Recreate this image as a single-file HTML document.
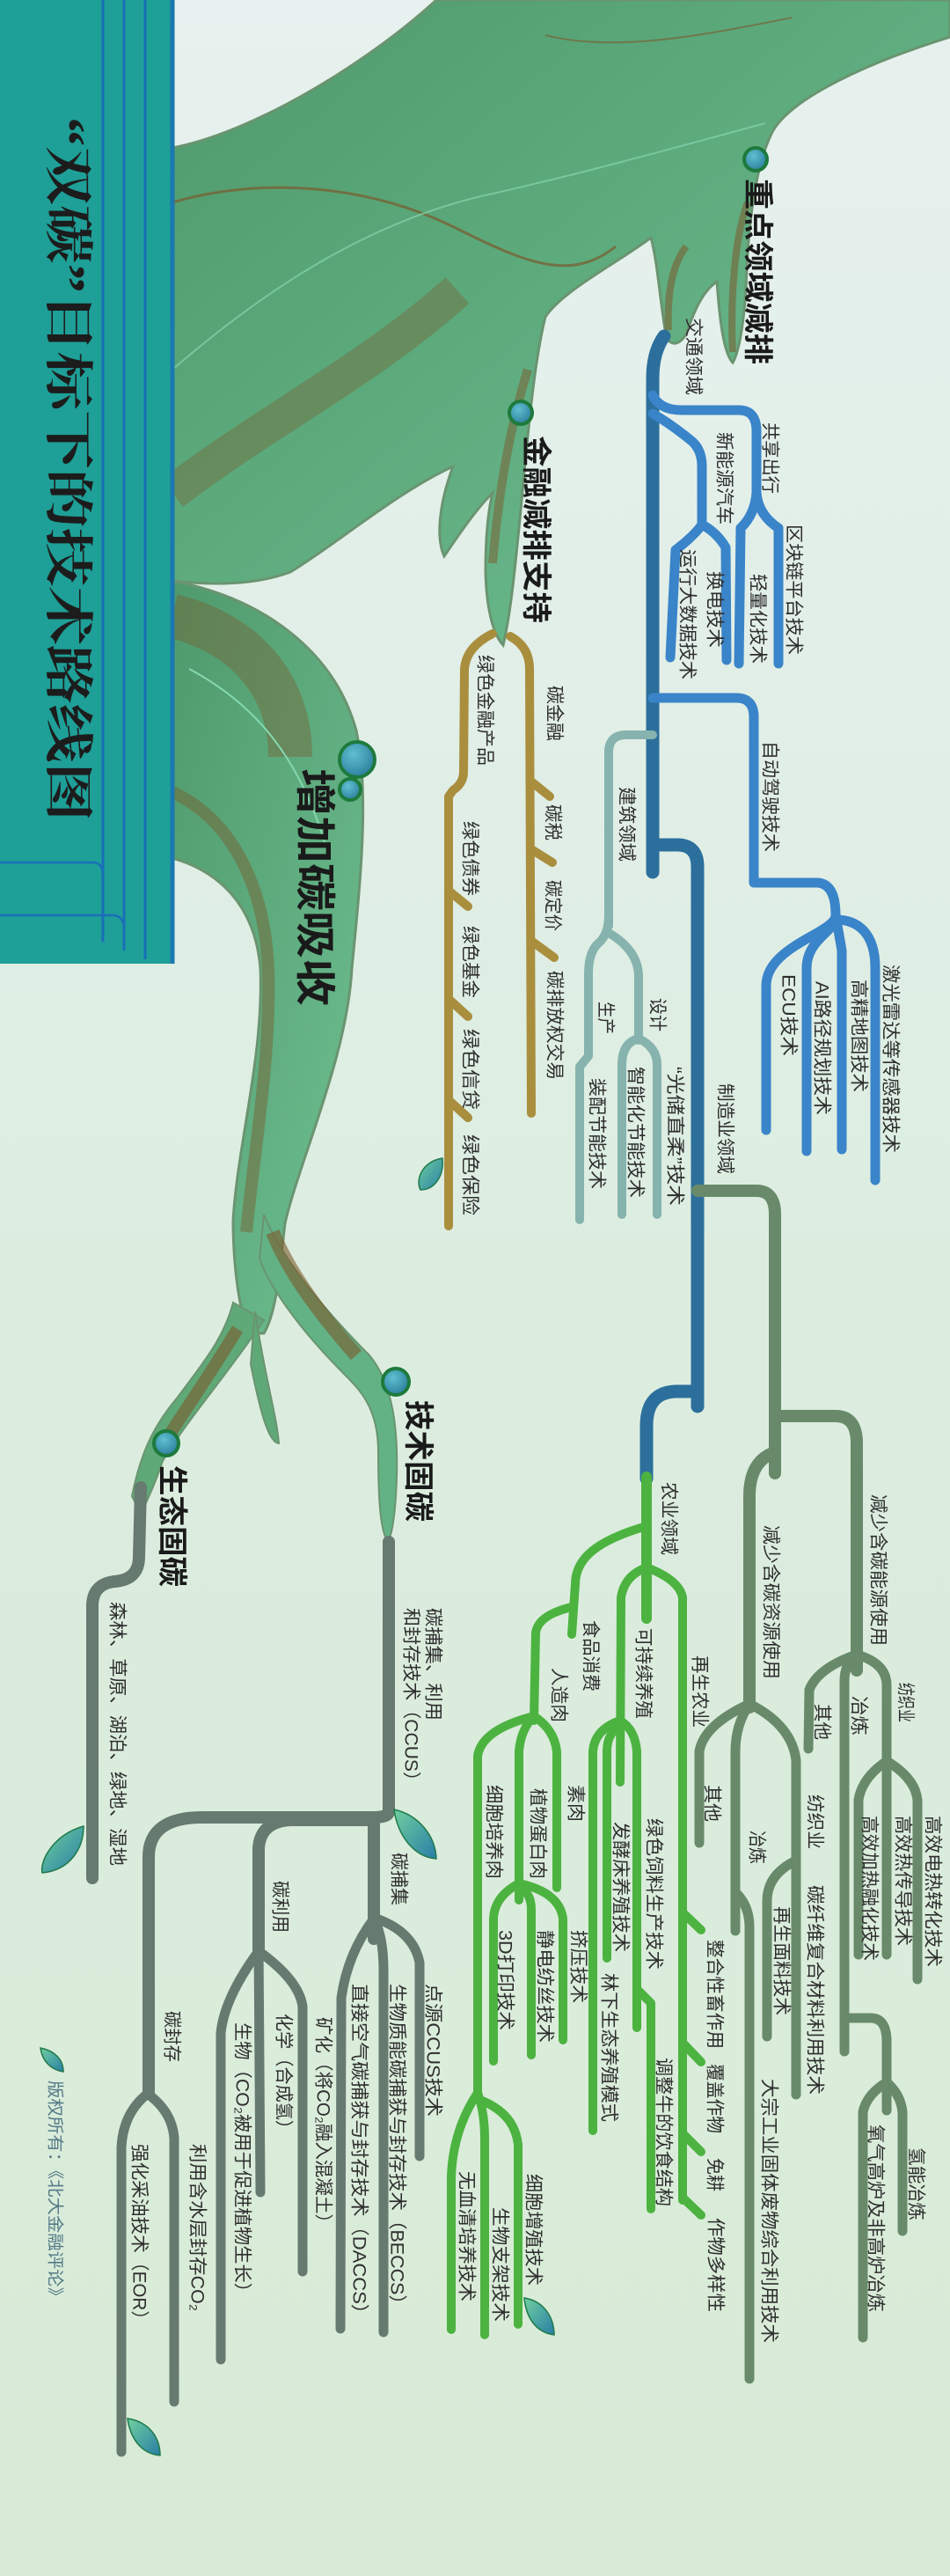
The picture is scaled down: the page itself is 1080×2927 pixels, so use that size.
<!DOCTYPE html>
<html><head><meta charset="utf-8">
<style>
html,body{margin:0;padding:0;}
body{width:1080px;height:2927px;overflow:hidden;}
svg{display:block;}
.t{font-family:"Liberation Sans","Noto Sans CJK SC",sans-serif;font-size:21px;fill:#2e2e2e;dominant-baseline:central;}
.b{font-family:"Liberation Sans","Noto Sans CJK SC",sans-serif;font-weight:bold;fill:#1a1a1a;dominant-baseline:central;}
.ln{fill:none;stroke-linecap:round;stroke-linejoin:round;}
</style></head><body>
<svg width="1080" height="2927" viewBox="0 0 1080 2927" xmlns="http://www.w3.org/2000/svg">
<defs>
<linearGradient id="bg" x1="0" y1="0" x2="0" y2="1">
<stop offset="0" stop-color="#e7f1ef"/><stop offset="0.5" stop-color="#dcede0"/><stop offset="1" stop-color="#d8ebd6"/>
</linearGradient>
<linearGradient id="tr" x1="0" y1="0" x2="1" y2="1">
<stop offset="0" stop-color="#4f9a6c"/><stop offset="0.6" stop-color="#62b083"/><stop offset="1" stop-color="#6fc293"/>
</linearGradient>
<linearGradient id="br" x1="0" y1="0" x2="1" y2="0">
<stop offset="0" stop-color="#7b5a2c"/><stop offset="1" stop-color="#7b5a2c" stop-opacity="0"/>
</linearGradient>
<radialGradient id="nd" cx="0.4" cy="0.35" r="0.7">
<stop offset="0" stop-color="#5fc0cf"/><stop offset="1" stop-color="#2a7c9c"/>
</radialGradient>
<linearGradient id="lf" x1="0" y1="0" x2="1" y2="1">
<stop offset="0" stop-color="#6fcf9e"/><stop offset="1" stop-color="#2a7ea6"/>
</linearGradient>
</defs>
<rect width="1080" height="2927" fill="url(#bg)"/>

<!-- tree canopy -->
<path d="M196,168 C290,150 420,70 496,0 L1080,0 L1080,42 C990,70 900,110 878,150 C858,190 850,260 848,330 C845,370 840,400 833,412 C822,400 818,360 815,320 C800,330 790,350 780,380 C770,395 760,392 757,380 C750,340 748,300 740,270 C700,300 640,330 620,360 C605,420 598,520 590,600 C585,650 580,700 572,733 C560,720 553,690 552,650 C552,610 555,580 560,560 C540,580 520,610 505,632 C495,610 500,570 515,530 C450,560 380,620 330,650 C290,665 240,665 196,660 Z" fill="url(#tr)" stroke="#6a9470" stroke-width="3"/>
<path d="M196,230 C300,200 420,210 520,260 C600,300 650,320 700,280" fill="none" stroke="#7b5a2c" stroke-width="3" opacity="0.7"/>
<path d="M196,420 C300,330 420,250 560,220 C650,200 760,170 870,140" fill="none" stroke="#7fd0a8" stroke-width="2" opacity="0.8"/>
<path d="M196,560 C300,480 420,420 520,330" fill="none" stroke="#7b5a2c" stroke-width="40" opacity="0.35"/>
<path d="M560,640 C565,580 575,500 600,420" fill="none" stroke="#7b5a2c" stroke-width="10" opacity="0.5"/>
<path d="M833,400 C830,340 835,270 850,230" fill="none" stroke="#7b5a2c" stroke-width="8" opacity="0.55"/>
<path d="M760,375 C758,330 765,300 780,280" fill="none" stroke="#7b5a2c" stroke-width="8" opacity="0.55"/>
<path d="M620,40 C700,60 800,40 900,20" fill="none" stroke="#7b5a2c" stroke-width="2" opacity="0.6"/>
<!-- limb -->
<path d="M196,660 C300,680 380,740 405,830 C420,900 410,1000 400,1100 C395,1200 340,1320 324,1390 C318,1440 315,1490 300,1515 L282,1515 C270,1480 265,1430 265,1387 C270,1300 300,1200 296,1100 C290,1030 250,990 196,975 Z" fill="url(#tr)" stroke="#6a9470" stroke-width="3"/>
<path d="M196,700 C280,720 330,780 330,860" fill="none" stroke="#7b5a2c" stroke-width="50" opacity="0.4"/>
<path d="M196,900 C260,930 300,1000 305,1100 C308,1200 290,1300 280,1400" fill="none" stroke="#7b5a2c" stroke-width="14" opacity="0.45"/>
<path d="M215,760 C290,800 340,860 370,960" fill="none" stroke="#84d8b0" stroke-width="2"/>
<path d="M300,1500 C260,1560 215,1610 185,1660 C175,1690 165,1710 160,1720 L150,1700 C160,1650 175,1620 200,1590 C230,1550 255,1520 265,1480 Z" fill="#5fa878" stroke="#6a9470" stroke-width="2"/>
<path d="M270,1510 C240,1560 205,1610 180,1650" fill="none" stroke="#7b5a2c" stroke-width="14" opacity="0.6"/>
<path d="M300,1380 C320,1430 370,1490 420,1540 C445,1570 455,1620 450,1700 C448,1730 445,1745 441,1752 C432,1740 430,1700 430,1650 C430,1600 410,1580 390,1560 C340,1510 305,1460 295,1430 Z" fill="#62b286" stroke="#6a9470" stroke-width="2"/>
<path d="M310,1400 C330,1450 370,1500 405,1540" fill="none" stroke="#7b5a2c" stroke-width="16" opacity="0.6"/>
<path d="M290,1490 C300,1560 315,1610 317,1640 C305,1640 295,1600 285,1550 Z" fill="#5fa878" stroke="#6a9470" stroke-width="2"/>

<!-- title panel -->
<rect x="0" y="0" width="196" height="1095" fill="#1e9f97"/>
<path d="M117,0 L117,1070 M141,0 L141,1080 M165,0 L165,1090" stroke="#1a6fb8" stroke-width="3" fill="none"/>
<path d="M196,0 L196,1095" stroke="#1a78b0" stroke-width="5"/>
<path d="M0,980 L108,980 Q117,982 117,995 M0,1040 L130,1040 Q141,1042 141,1055" stroke="#1a6fb8" stroke-width="2.5" fill="none"/>
<text x="0" y="0" transform="translate(76,133) rotate(90)" textLength="800" lengthAdjust="spacingAndGlyphs" style="font-family:'Liberation Serif','Noto Serif CJK SC',serif;font-size:56px;font-weight:bold;fill:#1c1c1c;dominant-baseline:central;">“双碳”目标下的技术路线图</text>

<!-- nodes -->
<g stroke="#1d7a3c" stroke-width="4" fill="url(#nd)">
<circle cx="859" cy="181" r="13"/>
<circle cx="592" cy="469" r="13"/>
<circle cx="406" cy="863" r="20"/>
<circle cx="398" cy="897" r="12"/>
<circle cx="450" cy="1570" r="15"/>
<circle cx="189" cy="1640" r="14"/>
</g>
<text class="b" transform="translate(861,203) rotate(90)" textLength="211" lengthAdjust="spacingAndGlyphs" style="font-size:34px">重点领域减排</text>
<text class="b" transform="translate(609,495) rotate(90)" textLength="213" lengthAdjust="spacingAndGlyphs" style="font-size:34px">金融减排支持</text>
<text class="b" transform="translate(358,873) rotate(90)" textLength="270" lengthAdjust="spacingAndGlyphs" style="font-size:46px">增加碳吸收</text>
<text class="b" transform="translate(475,1591) rotate(90)" textLength="138" lengthAdjust="spacingAndGlyphs" style="font-size:34px">技术固碳</text>
<text class="b" transform="translate(195,1665) rotate(90)" textLength="138" lengthAdjust="spacingAndGlyphs" style="font-size:34px">生态固碳</text>

<!-- blue tree -->
<g class="ln" stroke="#2c6f9c" stroke-width="15">
<path d="M755,382 Q742,400 742,430 L742,991"/>
<path d="M742,960 L770,960 Q793,960 793,985 L793,1598"/>
<path d="M793,1581 L770,1581 Q735,1581 735,1620 L735,1680"/>
</g>
<g class="ln" stroke="#3a84c9" stroke-width="11">
<path d="M742,449 Q750,466 775,466 L840,466 Q860,466 860,490 L860,562"/>
<path d="M860,560 Q862,585 885,600 L885,754"/>
<path d="M860,560 Q858,585 842,600 L840,754"/>
<path d="M742,470 Q760,480 785,500 Q798,510 798,530 L798,598"/>
<path d="M798,596 Q790,608 768,625 L762,747"/>
<path d="M798,596 Q815,605 825,622 L826,750"/>
<path d="M742,793 L837,793 Q857,793 857,815 L857,1003 L930,1003 Q950,1005 950,1040"/>
<path d="M950,1040 C950,1060 871,1075 871,1120 L871,1284"/>
<path d="M950,1045 C945,1060 917,1070 917,1100 L917,1308"/>
<path d="M950,1040 L957,1080 L957,1306"/>
<path d="M950,1045 C975,1045 995,1060 995,1100 L995,1341"/>
</g>
<!-- building -->
<g class="ln" stroke="#86b3ad" stroke-width="10">
<path d="M742,835 L712,835 Q692,835 692,855 L692,1052"/>
<path d="M692,1040 Q692,1062 680,1072 Q669,1082 669,1107 L669,1200 L659,1212 L659,1386"/>
<path d="M692,1060 Q726,1080 726,1110 L726,1182"/>
<path d="M726,1180 Q707,1185 707,1210 L707,1380"/>
<path d="M726,1180 Q747,1190 747,1210 L747,1380"/>
</g>
<!-- gold -->
<g class="ln" stroke="#a98e3e" stroke-width="10">
<path d="M560,720 Q530,735 528,760 L527,877 Q527,890 515,898 L510,905 L510,1393"/>
<path d="M580,723 Q602,735 602,760 L604,1265"/>
<path d="M510,1012 L532,1030 M510,1135 L532,1155 M510,1250 L532,1270"/>
<path d="M604,888 L625,905 M604,965 L628,980 M604,1069 L630,1088"/>
</g>
<!-- manufacturing -->
<g class="ln" stroke="#688a6a" stroke-width="14">
<path d="M793,1353 L860,1353 Q881,1353 881,1380 L881,1674"/>
<path d="M881,1609 L950,1609 Q974,1609 974,1640 L974,1898"/>
<path d="M881,1650 Q852,1660 852,1700 L852,1940"/>
</g>
<g class="ln" stroke="#688a6a" stroke-width="11">
<path d="M974,1880 Q930,1895 920,1920 L919,1987"/>
<path d="M974,1880 Q960,1890 960,1910 L960,2331"/>
<path d="M974,1880 Q1008,1890 1008,1915 L1008,2221"/>
<path d="M1008,2001 Q980,2020 976,2045 L976,2221"/>
<path d="M1008,2001 Q1040,2020 1043,2045 L1043,2249"/>
<path d="M960,2293 L990,2293 Q1008,2293 1008,2320 L1008,2398"/>
<path d="M1008,2366 Q985,2380 981,2400 L981,2656"/>
<path d="M1008,2366 Q1024,2380 1026,2400 L1026,2535"/>
<path d="M852,1936 Q800,1960 795,1990 L795,2094"/>
<path d="M852,1936 Q836,1960 836,1990 L836,2194"/>
<path d="M836,2150 Q852,2165 852,2190 L852,2703"/>
<path d="M852,1936 Q900,1960 905,2000 L905,2380"/>
<path d="M905,2114 Q872,2130 872,2160 L872,2314"/>
</g>
<!-- green -->
<g class="ln" stroke="#4cb340" stroke-width="10">
<path d="M735,1678 L735,1839" stroke-width="12"/>
<path d="M735,1734 C680,1750 654,1770 654,1800 L650,1857"/>
<path d="M650,1826 Q612,1835 609,1855 L607,1955"/>
<path d="M607,1950 Q548,1965 543,1995 L543,2385"/>
<path d="M607,1950 Q592,1965 590,1990 L590,2159"/>
<path d="M607,1950 Q630,1965 633,1990 L633,2145"/>
<path d="M590,2140 Q562,2155 561,2180 L561,2342"/>
<path d="M590,2145 Q604,2150 604,2170 L604,2335"/>
<path d="M590,2140 Q636,2150 640,2180 L640,2318"/>
<path d="M543,2378 Q515,2420 513,2473 L513,2647"/>
<path d="M543,2378 Q551,2400 551,2430 L551,2653"/>
<path d="M543,2385 Q585,2400 589,2437 L589,2641"/>
<path d="M735,1781 Q710,1790 706,1815 L705,2025"/>
<path d="M705,1955 Q676,1965 674,1990 L674,2421"/>
<path d="M705,1960 Q690,1970 690,1990 L690,2225"/>
<path d="M705,1955 Q722,1965 724,1990 L724,2304"/>
<path d="M724,2260 L740,2276 L740,2510"/>
<path d="M735,1781 Q772,1795 776,1815 L776,2500"/>
<path d="M776,2173 L797,2193 M776,2321 L797,2343 M776,2424 L797,2445 M776,2497 L797,2517"/>
</g>
<!-- tech gray -->
<g class="ln" stroke="#677a70" stroke-width="14">
<path d="M160,1690 L158,1769 Q158,1795 130,1797 Q105,1800 105,1825 L105,2134"/>
<path d="M442,1752 L442,2058 Q442,2065 425,2065 L230,2065 Q169,2065 169,2110 L169,2378"/>
<path d="M425,2068 L330,2068 Q296,2070 294,2100 L294,2217"/>
<path d="M425,2065 L425,2203"/>
</g>
<g class="ln" stroke="#677a70" stroke-width="11">
<path d="M294,2210 L296,2491"/>
<path d="M294,2217 Q255,2270 251,2310 L251,2681"/>
<path d="M294,2217 Q340,2250 344,2280 L344,2581"/>
<path d="M425,2180 Q395,2220 388,2270 L387,2646"/>
<path d="M425,2180 Q436,2200 436,2240 L436,2650"/>
<path d="M428,2180 Q470,2195 477,2230 L477,2450"/>
<path d="M169,2378 Q140,2400 138,2440 L138,2786"/>
<path d="M169,2380 Q196,2400 198,2430 L198,2729"/>
</g>

<!-- leaves -->
<g stroke="#1f7a4a" stroke-width="1.5" fill="url(#lf)">
<path d="M503,1316 C480,1320 472,1340 478,1352 C495,1352 505,1335 503,1316 Z"/>
<path d="M95,2075 C60,2085 45,2115 48,2128 C80,2125 95,2100 95,2075 Z"/>
<path d="M448,2056 C475,2062 495,2085 496,2112 C470,2110 452,2085 448,2056 Z"/>
<path d="M145,2748 C170,2752 182,2770 182,2790 C160,2788 148,2770 145,2748 Z"/>
<path d="M596,2611 C620,2615 630,2635 630,2653 C608,2650 598,2632 596,2611 Z"/>
<path d="M46,2327 C62,2330 72,2340 72,2354 C58,2352 48,2342 46,2327 Z"/>
</g>

<!-- labels -->
<g class="t">
<text transform="translate(788,361) rotate(90)" textLength="88" lengthAdjust="spacingAndGlyphs">交通领域</text>
<text transform="translate(875,480) rotate(90)" textLength="81" lengthAdjust="spacingAndGlyphs">共享出行</text>
<text transform="translate(823,491) rotate(90)" textLength="105" lengthAdjust="spacingAndGlyphs">新能源汽车</text>
<text transform="translate(902,596) rotate(90)" textLength="148" lengthAdjust="spacingAndGlyphs">区块链平台技术</text>
<text transform="translate(861,652) rotate(90)" textLength="102" lengthAdjust="spacingAndGlyphs">轻量化技术</text>
<text transform="translate(812,649) rotate(90)" textLength="87" lengthAdjust="spacingAndGlyphs">换电技术</text>
<text transform="translate(781,624) rotate(90)" textLength="148" lengthAdjust="spacingAndGlyphs">运行大数据技术</text>
<text transform="translate(875,842) rotate(90)" textLength="126" lengthAdjust="spacingAndGlyphs">自动驾驶技术</text>
<text transform="translate(896,1107) rotate(90)" textLength="93" lengthAdjust="spacingAndGlyphs">ECU技术</text>
<text transform="translate(934,1115) rotate(90)" textLength="152" lengthAdjust="spacingAndGlyphs">AI路径规划技术</text>
<text transform="translate(976,1113) rotate(90)" textLength="128" lengthAdjust="spacingAndGlyphs">高精地图技术</text>
<text transform="translate(1012,1096) rotate(90)" textLength="214" lengthAdjust="spacingAndGlyphs">激光雷达等传感器技术</text>
<text transform="translate(712,894) rotate(90)" textLength="85" lengthAdjust="spacingAndGlyphs">建筑领域</text>
<text transform="translate(688,1138) rotate(90)" textLength="37" lengthAdjust="spacingAndGlyphs">生产</text>
<text transform="translate(747,1134) rotate(90)" textLength="38" lengthAdjust="spacingAndGlyphs">设计</text>
<text transform="translate(678,1225) rotate(90)" textLength="126" lengthAdjust="spacingAndGlyphs">装配节能技术</text>
<text transform="translate(722,1212) rotate(90)" textLength="149" lengthAdjust="spacingAndGlyphs">智能化节能技术</text>
<text transform="translate(767,1212) rotate(90)" textLength="158" lengthAdjust="spacingAndGlyphs">“光储直柔”技术</text>
<text transform="translate(824,1231) rotate(90)" textLength="103" lengthAdjust="spacingAndGlyphs">制造业领域</text>

<text transform="translate(551,744) rotate(90)" textLength="126" lengthAdjust="spacingAndGlyphs">绿色金融产品</text>
<text transform="translate(630,779) rotate(90)" textLength="63" lengthAdjust="spacingAndGlyphs">碳金融</text>
<text transform="translate(628,914) rotate(90)" textLength="41" lengthAdjust="spacingAndGlyphs">碳税</text>
<text transform="translate(534,933) rotate(90)" textLength="85" lengthAdjust="spacingAndGlyphs">绿色债券</text>
<text transform="translate(628,1000) rotate(90)" textLength="58" lengthAdjust="spacingAndGlyphs">碳定价</text>
<text transform="translate(534,1052) rotate(90)" textLength="82" lengthAdjust="spacingAndGlyphs">绿色基金</text>
<text transform="translate(630,1103) rotate(90)" textLength="124" lengthAdjust="spacingAndGlyphs">碳排放权交易</text>
<text transform="translate(534,1169) rotate(90)" textLength="92" lengthAdjust="spacingAndGlyphs">绿色信贷</text>
<text transform="translate(534,1289) rotate(90)" textLength="92" lengthAdjust="spacingAndGlyphs">绿色保险</text>

<text transform="translate(760,1684) rotate(90)" textLength="83" lengthAdjust="spacingAndGlyphs">农业领域</text>
<text transform="translate(671,1841) rotate(90)" textLength="81" lengthAdjust="spacingAndGlyphs">食品消费</text>
<text transform="translate(731,1850) rotate(90)" textLength="103" lengthAdjust="spacingAndGlyphs">可持续养殖</text>
<text transform="translate(795,1881) rotate(90)" textLength="82" lengthAdjust="spacingAndGlyphs">再生农业</text>
<text transform="translate(635,1895) rotate(90)" textLength="62" lengthAdjust="spacingAndGlyphs">人造肉</text>
<text transform="translate(561,2028) rotate(90)" textLength="107" lengthAdjust="spacingAndGlyphs">细胞培养肉</text>
<text transform="translate(611,2032) rotate(90)" textLength="103" lengthAdjust="spacingAndGlyphs">植物蛋白肉</text>
<text transform="translate(654,2028) rotate(90)" textLength="42" lengthAdjust="spacingAndGlyphs">素肉</text>
<text transform="translate(574,2193) rotate(90)" textLength="114" lengthAdjust="spacingAndGlyphs">3D打印技术</text>
<text transform="translate(619,2193) rotate(90)" textLength="128" lengthAdjust="spacingAndGlyphs">静电纺丝技术</text>
<text transform="translate(657,2193) rotate(90)" textLength="83" lengthAdjust="spacingAndGlyphs">挤压技术</text>
<text transform="translate(705,2070) rotate(90)" textLength="148" lengthAdjust="spacingAndGlyphs">发酵床养殖技术</text>
<text transform="translate(692,2242) rotate(90)" textLength="169" lengthAdjust="spacingAndGlyphs">林下生态养殖模式</text>
<text transform="translate(743,2066) rotate(90)" textLength="172" lengthAdjust="spacingAndGlyphs">绿色饲料生产技术</text>
<text transform="translate(754,2338) rotate(90)" textLength="169" lengthAdjust="spacingAndGlyphs">调整牛的饮食结构</text>
<text transform="translate(812,2204) rotate(90)" textLength="124" lengthAdjust="spacingAndGlyphs">整合性畜作用</text>
<text transform="translate(812,2345) rotate(90)" textLength="79" lengthAdjust="spacingAndGlyphs">覆盖作物</text>
<text transform="translate(812,2452) rotate(90)" textLength="38" lengthAdjust="spacingAndGlyphs">免耕</text>
<text transform="translate(813,2520) rotate(90)" textLength="107" lengthAdjust="spacingAndGlyphs">作物多样性</text>
<text transform="translate(530,2467) rotate(90)" textLength="148" lengthAdjust="spacingAndGlyphs">无血清培养技术</text>
<text transform="translate(568,2508) rotate(90)" textLength="130" lengthAdjust="spacingAndGlyphs">生物支架技术</text>
<text transform="translate(606,2470) rotate(90)" textLength="127" lengthAdjust="spacingAndGlyphs">细胞增殖技术</text>

<text transform="translate(876,1733) rotate(90)" textLength="175" lengthAdjust="spacingAndGlyphs">减少含碳资源使用</text>
<text transform="translate(998,1698) rotate(90)" textLength="172" lengthAdjust="spacingAndGlyphs">减少含碳能源使用</text>
<text transform="translate(809,2028) rotate(90)" textLength="42" lengthAdjust="spacingAndGlyphs">其他</text>
<text transform="translate(860,2080) rotate(90)" textLength="38" lengthAdjust="spacingAndGlyphs">冶炼</text>
<text transform="translate(926,2039) rotate(90)" textLength="62" lengthAdjust="spacingAndGlyphs">纺织业</text>
<text transform="translate(888,2166) rotate(90)" textLength="124" lengthAdjust="spacingAndGlyphs">再生面料技术</text>
<text transform="translate(926,2142) rotate(90)" textLength="238" lengthAdjust="spacingAndGlyphs">碳纤维复合材料利用技术</text>
<text transform="translate(874,2362) rotate(90)" textLength="300" lengthAdjust="spacingAndGlyphs">大宗工业固体废物综合利用技术</text>
<text transform="translate(934,1936) rotate(90)" textLength="41" lengthAdjust="spacingAndGlyphs">其他</text>
<text transform="translate(976,1927) rotate(90)" textLength="45" lengthAdjust="spacingAndGlyphs">冶炼</text>
<text transform="translate(1029,1912) rotate(90)" textLength="45" lengthAdjust="spacingAndGlyphs">纺织业</text>
<text transform="translate(988,2063) rotate(90)" textLength="165" lengthAdjust="spacingAndGlyphs">高效加热融化技术</text>
<text transform="translate(1026,2063) rotate(90)" textLength="148" lengthAdjust="spacingAndGlyphs">高效热传导技术</text>
<text transform="translate(1060,2063) rotate(90)" textLength="172" lengthAdjust="spacingAndGlyphs">高效电热转化技术</text>
<text transform="translate(995,2414) rotate(90)" textLength="213" lengthAdjust="spacingAndGlyphs">氧气高炉及非高炉冶炼</text>
<text transform="translate(1041,2440) rotate(90)" textLength="83" lengthAdjust="spacingAndGlyphs">氢能冶炼</text>

<text transform="translate(133,1820) rotate(90)" textLength="300" lengthAdjust="spacingAndGlyphs">森林、草原、湖泊、绿地、湿地</text>
<text transform="translate(492,1827) rotate(90)" textLength="128" lengthAdjust="spacingAndGlyphs">碳捕集、利用</text>
<text transform="translate(467,1827) rotate(90)" textLength="207" lengthAdjust="spacingAndGlyphs">和封存技术（CCUS）</text>
<text transform="translate(453,2105) rotate(90)" textLength="60" lengthAdjust="spacingAndGlyphs">碳捕集</text>
<text transform="translate(318,2137) rotate(90)" textLength="59" lengthAdjust="spacingAndGlyphs">碳利用</text>
<text transform="translate(195,2285) rotate(90)" textLength="58" lengthAdjust="spacingAndGlyphs">碳封存</text>
<text transform="translate(492,2254) rotate(90)" textLength="151" lengthAdjust="spacingAndGlyphs">点源CCUS技术</text>
<text transform="translate(451,2254) rotate(90)" textLength="375" lengthAdjust="spacingAndGlyphs">生物质能碳捕获与封存技术（BECCS）</text>
<text transform="translate(408,2254) rotate(90)" textLength="386" lengthAdjust="spacingAndGlyphs">直接空气碳捕获与封存技术（DACCS）</text>
<text transform="translate(367,2292) rotate(90)" textLength="244" lengthAdjust="spacingAndGlyphs">矿化（将CO₂融入混凝土）</text>
<text transform="translate(322,2288) rotate(90)" textLength="141" lengthAdjust="spacingAndGlyphs">化学（合成氢）</text>
<text transform="translate(275,2298) rotate(90)" textLength="317" lengthAdjust="spacingAndGlyphs">生物（CO₂被用于促进植物生长）</text>
<text transform="translate(224,2436) rotate(90)" textLength="190" lengthAdjust="spacingAndGlyphs">利用含水层封存CO₂</text>
<text transform="translate(158,2436) rotate(90)" textLength="210" lengthAdjust="spacingAndGlyphs">强化采油技术（EOR）</text>
<text transform="translate(62,2364) rotate(90)" textLength="255" lengthAdjust="spacingAndGlyphs" style="fill:#557a88;font-size:19px">版权所有：《北大金融评论》</text>
</g>
</svg>
</body></html>
